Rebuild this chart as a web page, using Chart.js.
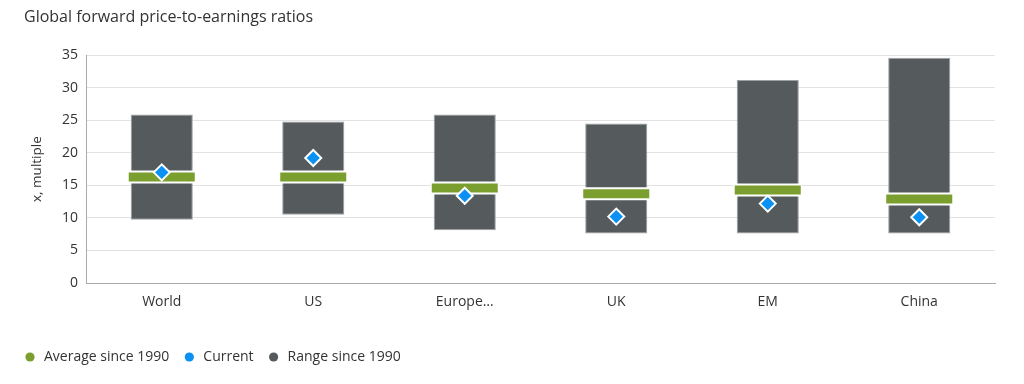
<!DOCTYPE html>
<html>
<head>
<meta charset="utf-8">
<script src="https://cdn.jsdelivr.net/npm/chart.js@4"></script>
<style>
  html, body { margin: 0; padding: 0; background: #fff; }
</style>
</head>
<body>
<canvas id="peChart" width="1024" height="384"></canvas>
<script>
// values
const categories = ['World', 'US', 'Europe\u2026', 'UK', 'EM', 'China'];
const rangeLow = [9.7, 10.5, 8.1, 7.6, 7.6, 7.6];
const rangeHigh = [25.9, 24.8, 25.9, 24.5, 31.2, 34.6];
const average = [16.3, 16.3, 14.6, 13.7, 14.3, 12.9];
const current = [17.0, 19.2, 13.4, 10.2, 12.2, 10.1];

const GREEN = '#7a9f2e';
const BLUE = '#0b90f4';
const GREY = '#555a5d';
const TEXT = '#333333';

Chart.defaults.font.family = '"Open Sans", "Noto Sans", sans-serif';
Chart.defaults.color = TEXT;

// move the legend a little to the left, the title keeps its place
const legendShift = {
  id: 'legendShift',
  afterLayout: chart => { chart.legend.left = 10; }
};

const ctx = document.getElementById('peChart').getContext('2d');
new Chart(ctx, {
  type: 'bar',
  data: {
    labels: categories,
    datasets: [
      {
        type: 'line',
        label: 'Average since 1990',
        data: average,
        showLine: false,
        borderWidth: 0,
        pointStyle: 'line',
        pointRadius: 33,
        pointBorderWidth: 9,
        pointBorderColor: GREEN,
        backgroundColor: GREEN,
        borderColor: GREEN,
        order: 1
      },
      {
        type: 'line',
        label: 'Current',
        data: current,
        showLine: false,
        borderWidth: 0,
        pointStyle: 'rectRot',
        pointRadius: 8,
        pointBorderWidth: 2,
        pointBackgroundColor: BLUE,
        pointBorderColor: '#ffffff',
        backgroundColor: BLUE,
        borderColor: BLUE,
        order: 0
      },
      {
        label: 'Range since 1990',
        data: categories.map((c, i) => [rangeLow[i], rangeHigh[i]]),
        backgroundColor: GREY,
        borderColor: '#9ea1a3',
        borderWidth: 1,
        borderSkipped: false,
        barPercentage: 0.41,
        categoryPercentage: 1,
        order: 3
      },
      {
        // white outline under the average marks
        type: 'line',
        label: '',
        data: average,
        showLine: false,
        borderWidth: 0,
        pointStyle: 'line',
        pointRadius: 34,
        pointBorderWidth: 13,
        pointBorderColor: '#ffffff',
        order: 2
      }
    ]
  },
  options: {
    responsive: false,
    animation: false,
    layout: { autoPadding: false, padding: { left: 24, right: 29, top: 0, bottom: 10 } },
    plugins: {
      title: {
        display: true,
        text: 'Global forward price-to-earnings ratios',
        align: 'start',
        color: TEXT,
        font: { size: 16, weight: 'normal' },
        padding: { top: 8, bottom: 28 }
      },
      legend: {
        position: 'bottom',
        align: 'start',
        labels: {
          usePointStyle: true,
          pointStyle: 'circle',
          boxHeight: 6.5,
          color: TEXT,
          font: { size: 14 },
          padding: 13,
          generateLabels: chart => Chart.defaults.plugins.legend.labels.generateLabels(chart)
            .map(l => Object.assign(l, { lineWidth: 0, strokeStyle: l.fillStyle })),
          filter: item => item.text !== '',
          sort: (a, b) => a.datasetIndex - b.datasetIndex
        }
      },
      tooltip: { enabled: false }
    },
    scales: {
      x: {
        grid: { display: false },
        border: { color: '#aaaaaa' },
        ticks: { color: TEXT, font: { size: 14 }, padding: 3 },
        afterFit: s => { s.height = 54; }
      },
      y: {
        min: 0,
        max: 35,
        ticks: { stepSize: 5, color: TEXT, font: { size: 14 }, padding: 8 },
        grid: { color: '#e2e2e2', drawTicks: false },
        border: { color: '#aaaaaa' },
        title: { display: true, text: 'x, multiple', color: TEXT, font: { size: 13.5 }, padding: { top: 5, bottom: 4 } },
        afterFit: s => { s.width = 62; }
      }
    }
  },
  plugins: [legendShift]
});
</script>
</body>
</html>
